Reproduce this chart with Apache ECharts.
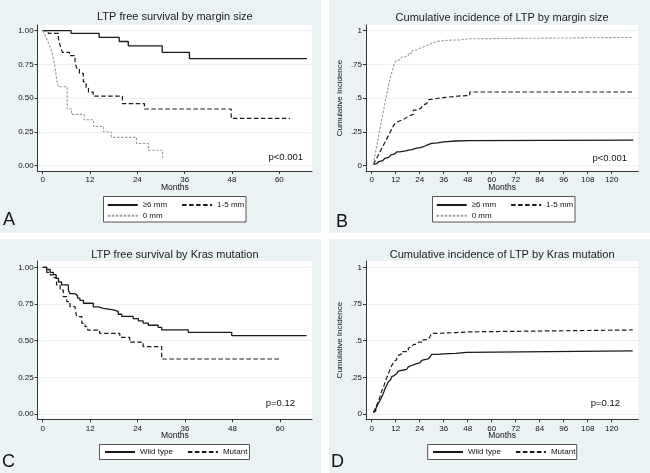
<!DOCTYPE html>
<html><head><meta charset="utf-8">
<script src="https://cdn.jsdelivr.net/npm/echarts@6/dist/echarts.min.js"></script>
<style>
html,body{margin:0;padding:0;background:#fff;width:650px;height:473px;overflow:hidden}
.p{position:absolute}
</style></head><body>
<div id="A" class="p" style="left:0;top:0;width:321px;height:233px"></div>
<div id="B" class="p" style="left:329px;top:0;width:321px;height:233px"></div>
<div id="C" class="p" style="left:0;top:239px;width:321px;height:234px"></div>
<div id="D" class="p" style="left:329px;top:239px;width:321px;height:234px"></div>
<script>
// ---------- tick labels ----------
const xTicksShort = [0, 12, 24, 36, 48, 60];
const xTicksLong = [0, 12, 24, 36, 48, 60, 72, 84, 96, 108, 120];
const yTicks = [0, 0.25, 0.5, 0.75, 1];
const yLabelsSurv = ['0.00', '0.25', '0.50', '0.75', '1.00'];
const yLabelsCI = ['0', '.25', '.5', '.75', '1'];

// ---------- A: LTP free survival by margin size ----------
const a6_t = [0, 7.2, 14.3, 19.4, 21.7, 30.3, 37.2, 67.0];
const a6_v = [1.00, 0.98, 0.95, 0.92, 0.887, 0.84, 0.793, 0.793];
const a15_t = [0, 1.4, 4.0, 4.5, 5.0, 6.8, 8.2, 8.7, 9.3, 10.3, 11.0, 11.6, 12.8, 20.2, 25.8, 47.8, 62.7];
const a15_v = [1.00, 0.98, 0.94, 0.88, 0.84, 0.815, 0.76, 0.72, 0.684, 0.62, 0.573, 0.545, 0.515, 0.46, 0.42, 0.35, 0.35];
const a0_t = [0, 0.4, 0.7, 1.0, 1.3, 1.6, 1.9, 2.2, 2.4, 2.7, 3.0, 3.2, 3.4, 3.6, 3.9, 6.2, 7.3, 10.5, 12.9, 15.4, 17.4, 23.8, 26.8, 30.4];
const a0_v = [1.00, 0.98, 0.96, 0.94, 0.92, 0.90, 0.875, 0.85, 0.83, 0.79, 0.75, 0.71, 0.67, 0.63, 0.585, 0.42, 0.38, 0.34, 0.29, 0.25, 0.21, 0.165, 0.115, 0.06];

// ---------- B: Cumulative incidence by margin size ----------
const b6_t = [0.8, 1.5, 2.5, 3.5, 4.5, 5.5, 6.5, 7.5, 8.5, 9.5, 10.5, 11.5, 12.5, 14, 15.5, 17, 18.5, 20, 22, 24, 25.5, 27, 28.5, 30, 33, 36, 42, 48, 130.8];
const b6_v = [0.01, 0.015, 0.022, 0.03, 0.038, 0.046, 0.054, 0.062, 0.07, 0.078, 0.087, 0.095, 0.102, 0.106, 0.11, 0.116, 0.12, 0.128, 0.134, 0.14, 0.148, 0.158, 0.165, 0.17, 0.176, 0.183, 0.186, 0.19, 0.19];
const b15_t = [0.8, 1.5, 2.2, 3.0, 3.7, 4.4, 5.1, 5.8, 6.5, 7.2, 7.9, 8.6, 9.3, 10.0, 10.8, 11.7, 12.5, 13.3, 15, 16.7, 18, 19.2, 20.8, 22, 23.3, 24.5, 25.5, 26.5, 27.5, 28.5, 29.2, 34, 36.7, 43.3, 49, 130.8];
const b15_v = [0.01, 0.03, 0.05, 0.07, 0.09, 0.11, 0.13, 0.15, 0.17, 0.19, 0.21, 0.23, 0.25, 0.27, 0.295, 0.314, 0.328, 0.338, 0.35, 0.363, 0.372, 0.38, 0.412, 0.418, 0.425, 0.437, 0.449, 0.46, 0.474, 0.49, 0.50, 0.506, 0.516, 0.52, 0.546, 0.546];
const b0_t = [0.8, 1.3, 1.8, 2.3, 2.8, 3.3, 3.8, 4.3, 4.8, 5.3, 5.8, 6.3, 6.8, 7.3, 7.8, 8.3, 8.8, 9.3, 9.8, 10.3, 10.8, 11.3, 12.0, 13, 14, 15, 16.5, 18.3, 20, 21, 22.5, 24, 25.8, 27.5, 29.2, 30.5, 32.5, 36, 39.2, 44, 49, 130.8];
const b0_v = [0.01, 0.05, 0.09, 0.13, 0.17, 0.21, 0.25, 0.29, 0.33, 0.36, 0.40, 0.44, 0.48, 0.51, 0.55, 0.585, 0.62, 0.65, 0.68, 0.70, 0.73, 0.755, 0.775, 0.785, 0.795, 0.805, 0.815, 0.832, 0.85, 0.857, 0.869, 0.88, 0.89, 0.90, 0.911, 0.92, 0.926, 0.93, 0.931, 0.94, 0.95, 0.95];

// ---------- C: LTP free survival by Kras mutation ----------
const cw_t = [0, 1.0, 1.9, 2.7, 3.4, 4.0, 4.8, 6.5, 6.9, 8.2, 8.8, 9.4, 10.3, 12.8, 14.1, 15.3, 17.9, 19.1, 20.0, 22.9, 24.2, 25.4, 26.7, 29.2, 30.1, 36.8, 47.8, 66.7];
const cw_v = [1.00, 0.985, 0.966, 0.95, 0.925, 0.90, 0.88, 0.845, 0.82, 0.807, 0.79, 0.775, 0.755, 0.73, 0.72, 0.71, 0.70, 0.68, 0.665, 0.65, 0.635, 0.62, 0.605, 0.59, 0.573, 0.557, 0.534, 0.534];
const cm_t = [0, 1.0, 1.9, 2.7, 3.5, 4.4, 5.2, 6.1, 6.9, 8.2, 8.6, 9.9, 10.7, 11.4, 14.4, 19.5, 22.0, 25.4, 30.1, 60.0];
const cm_v = [1.00, 0.966, 0.948, 0.93, 0.88, 0.845, 0.80, 0.766, 0.732, 0.716, 0.664, 0.618, 0.595, 0.572, 0.55, 0.523, 0.49, 0.46, 0.375, 0.375];

// ---------- D: Cumulative incidence by Kras mutation ----------
const dw_t = [0.8, 1.5, 2.0, 2.7, 3.3, 4.0, 4.6, 5.0, 5.6, 6.2, 6.7, 7.3, 7.8, 8.3, 8.9, 9.4, 10, 10.6, 11.2, 11.7, 12.5, 13.3, 14.2, 15.8, 17.5, 18.3, 19.2, 20.5, 21.7, 23, 24.2, 25, 25.8, 27, 28.3, 29.2, 30, 33, 35.8, 42, 47.5, 130.5];
const dw_v = [0.01, 0.02, 0.035, 0.055, 0.073, 0.09, 0.105, 0.118, 0.135, 0.155, 0.175, 0.19, 0.205, 0.22, 0.232, 0.243, 0.255, 0.262, 0.268, 0.275, 0.285, 0.293, 0.30, 0.305, 0.311, 0.322, 0.334, 0.34, 0.345, 0.35, 0.357, 0.365, 0.373, 0.376, 0.38, 0.39, 0.407, 0.41, 0.414, 0.42, 0.43, 0.43];
const dm_t = [0.8, 1.5, 2.0, 2.5, 3.0, 3.5, 4.2, 4.8, 5.3, 5.8, 6.3, 6.7, 7.3, 7.8, 8.3, 8.8, 9.4, 10, 10.6, 11.2, 11.7, 12.5, 13.3, 14.2, 15, 16.5, 18.3, 19.2, 20, 21, 22.5, 23.5, 25, 26.5, 28.3, 29.2, 30, 33, 36.7, 42, 48.3, 130.5];
const dm_v = [0.01, 0.03, 0.045, 0.06, 0.073, 0.09, 0.12, 0.15, 0.165, 0.18, 0.2, 0.22, 0.24, 0.255, 0.275, 0.29, 0.31, 0.33, 0.345, 0.36, 0.37, 0.385, 0.4, 0.41, 0.425, 0.425, 0.448, 0.46, 0.47, 0.475, 0.482, 0.49, 0.505, 0.51, 0.516, 0.53, 0.55, 0.552, 0.555, 0.56, 0.573, 0.573];

// ---------- styles ----------
const FONT = '"Liberation Sans", Arial, sans-serif';
const BG = '#eaf2f3';
const solid = {color: '#1a1a1a', width: 1.3, type: 'solid'};
const dashed = {color: '#1a1a1a', width: 1.2, type: [4.5, 2.5]};
const grayDash = {color: '#9a9a9a', width: 1.1, type: [2.5, 1.5]};

function build(id, cfg) {
  const chart = echarts.init(document.getElementById(id), null, {renderer: 'canvas'});
  const series = cfg.series.map(s => ({
    type: 'line', name: s.name, step: 'end', symbol: 'none', showSymbol: false,
    data: s.t.map((x, i) => [x, s.v[i]]),
    lineStyle: Object.assign({}, s.style), itemStyle: {color: s.style.color},
    emphasis: {disabled: true}, silent: true, animation: false
  }));
  const legends = cfg.legendRows.map(r => ({
    data: r.names, left: r.left, top: r.top, orient: 'horizontal',
    itemWidth: 30, itemHeight: 8, itemGap: 14, padding: 0, selectedMode: false,
    itemStyle: {opacity: 0, borderWidth: 0},
    textStyle: {fontSize: 8, fontFamily: FONT, color: '#111'}
  }));
  const yl = cfg.yLabels;
  const g = cfg.grid;
  const graphic = [
    {type: 'rect', shape: cfg.legendBox, style: {fill: '#fff', stroke: '#555', lineWidth: 1}, z: 1},
    {type: 'text', x: g.left + g.width / 2, y: cfg.titleY,
     style: {text: cfg.title, font: '11px ' + FONT, fill: '#1a1a1a', align: 'center', verticalAlign: 'middle', textAlign: 'center', textVerticalAlign: 'middle'}},
    {type: 'text', x: cfg.pX, y: cfg.pY,
     style: {text: cfg.pText, font: '9.5px ' + FONT, fill: '#111', align: 'right', verticalAlign: 'middle', textAlign: 'right', textVerticalAlign: 'middle'}, z: 10},
    {type: 'text', x: cfg.letterX, y: cfg.letterY,
     style: {text: cfg.letter, font: '18px ' + FONT, fill: '#111', align: 'left', verticalAlign: 'middle', textAlign: 'left', textVerticalAlign: 'middle'}}
  ];
  const yAxis = {
    type: 'value', min: cfg.yMin, max: cfg.yMax,
    axisLine: {show: true, onZero: false, lineStyle: {color: '#333', width: 1}},
    axisTick: {show: true, length: 3, customValues: yTicks, lineStyle: {color: '#333'}},
    axisLabel: {customValues: yTicks, margin: 4, fontSize: 8, fontFamily: FONT, color: '#111',
      formatter: v => { const i = yTicks.findIndex(t => Math.abs(t - v) < 1e-6); return i >= 0 ? yl[i] : ''; }},
    splitLine: {show: true, lineStyle: {color: BG, width: 1}}
  };
  if (cfg.yName) {
    Object.assign(yAxis, {name: cfg.yName, nameLocation: 'middle', nameRotate: 90, nameGap: 22, nameMoveOverlap: false,
      nameTextStyle: {fontSize: 8, fontFamily: FONT, color: '#111'}});
  }
  chart.setOption({
    animation: false,
    backgroundColor: BG,
    grid: Object.assign({show: true, backgroundColor: '#fff', borderWidth: 0, containLabel: false, outerBoundsMode: 'none'}, g),
    xAxis: {
      type: 'value', min: cfg.xMin, max: cfg.xMax,
      name: 'Months', nameLocation: 'middle', nameGap: 12, nameMoveOverlap: false,
      nameTextStyle: {fontSize: 8.5, fontFamily: FONT, color: '#111'},
      axisLine: {show: true, onZero: false, lineStyle: {color: '#333', width: 1}},
      axisTick: {show: true, length: 3, customValues: cfg.xTicks, lineStyle: {color: '#333'}},
      axisLabel: {customValues: cfg.xTicks, margin: 5, fontSize: 8, fontFamily: FONT, color: '#111'},
      splitLine: {show: false}
    },
    yAxis: yAxis,
    legend: legends,
    graphic: graphic,
    series: series
  });
}

const legendBox2 = {x: 103.5, y: 196.5, width: 142.5, height: 25.5};
build('A', {
  title: 'LTP free survival by margin size', titleY: 17,
  grid: {left: 37.7, top: 25, width: 274.3, height: 146},
  xMin: -1.27, xMax: 68.28, xTicks: xTicksShort,
  yMin: -0.039, yMax: 1.042, yLabels: yLabelsSurv,
  series: [
    {name: '≥6 mm', t: a6_t, v: a6_v, style: solid},
    {name: '1-5 mm', t: a15_t, v: a15_v, style: dashed},
    {name: '0 mm', t: a0_t, v: a0_v, style: grayDash}
  ],
  legendRows: [{names: ['≥6 mm', '1-5 mm'], left: 106.7, top: 201}, {names: ['0 mm'], left: 106.7, top: 211.7}],
  legendBox: legendBox2,
  pText: 'p<0.001', pX: 303, pY: 157,
  letter: 'A', letterX: 3, letterY: 220
});
build('B', {
  title: 'Cumulative incidence of LTP by margin size', titleY: 18,
  grid: {left: 37, top: 25, width: 272.3, height: 146},
  xMin: -2.85, xMax: 133.3, xTicks: xTicksLong,
  yMin: -0.039, yMax: 1.042, yLabels: yLabelsCI, yName: 'Cumulative Incidence',
  series: [
    {name: '≥6 mm', t: b6_t, v: b6_v, style: solid},
    {name: '1-5 mm', t: b15_t, v: b15_v, style: dashed},
    {name: '0 mm', t: b0_t, v: b0_v, style: grayDash}
  ],
  legendRows: [{names: ['≥6 mm', '1-5 mm'], left: 106.7, top: 201}, {names: ['0 mm'], left: 106.7, top: 211.7}],
  legendBox: legendBox2,
  pText: 'p<0.001', pX: 298, pY: 158,
  letter: 'B', letterX: 7, letterY: 222
});
build('C', {
  title: 'LTP free survival by Kras mutation', titleY: 16,
  grid: {left: 37.7, top: 22, width: 274.3, height: 158.3},
  xMin: -1.26, xMax: 68.1, xTicks: xTicksShort,
  yMin: -0.036, yMax: 1.043, yLabels: yLabelsSurv,
  series: [
    {name: 'Wild type', t: cw_t, v: cw_v, style: solid},
    {name: 'Mutant', t: cm_t, v: cm_v, style: dashed}
  ],
  legendRows: [{names: ['Wild type', 'Mutant'], left: 104, top: 209}],
  legendBox: {x: 99.5, y: 205.5, width: 150, height: 15},
  pText: 'p=0.12', pX: 295, pY: 164,
  letter: 'C', letterX: 2, letterY: 223
});
build('D', {
  title: 'Cumulative incidence of LTP by Kras mutation', titleY: 16,
  grid: {left: 37, top: 22, width: 272.3, height: 158.3},
  xMin: -2.85, xMax: 133.3, xTicks: xTicksLong,
  yMin: -0.036, yMax: 1.043, yLabels: yLabelsCI, yName: 'Cumulative Incidence',
  series: [
    {name: 'Wild type', t: dw_t, v: dw_v, style: solid},
    {name: 'Mutant', t: dm_t, v: dm_v, style: dashed}
  ],
  legendRows: [{names: ['Wild type', 'Mutant'], left: 103, top: 209}],
  legendBox: {x: 98.7, y: 205.5, width: 149, height: 15},
  pText: 'p=0.12', pX: 291, pY: 164,
  letter: 'D', letterX: 2, letterY: 223
});
</script>
</body></html>
